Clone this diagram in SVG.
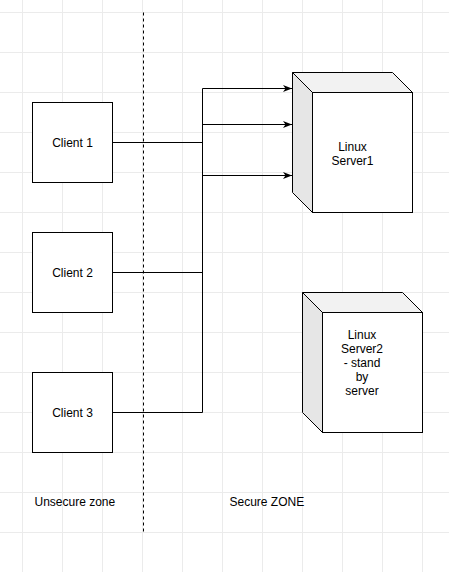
<svg xmlns="http://www.w3.org/2000/svg" width="449" height="572" viewBox="0 0 449 572">
<style>
.grid{stroke:#ebebeb;stroke-width:1;fill:none}
.box{fill:#ffffff;stroke:#000000;stroke-width:1}
.side{fill:#e6e6e6;stroke:#000000;stroke-width:1}
.top{fill:#f2f2f2;stroke:#000000;stroke-width:1}
.edge{fill:none;stroke:#000000;stroke-width:1}
text{font-family:"Liberation Sans",Arial,Helvetica,sans-serif;font-size:12px;fill:#000000}
</style>
<defs>
<marker id="arr" markerWidth="10" markerHeight="8" refX="9" refY="4" orient="auto" markerUnits="userSpaceOnUse">
<path d="M0,0.5 L9,4 L0,7.5 L2.5,4 Z" fill="#000"/>
</marker>
</defs>
<rect width="449" height="572" fill="#ffffff"/>
<g id="grid">
<path class="grid" d="M22.5,0V572M62.5,0V572M102.5,0V572M142.5,0V572M182.5,0V572M222.5,0V572M262.5,0V572M302.5,0V572M342.5,0V572M382.5,0V572M422.5,0V572M0,12.5H449M0,52.5H449M0,92.5H449M0,132.5H449M0,172.5H449M0,212.5H449M0,252.5H449M0,292.5H449M0,332.5H449M0,372.5H449M0,412.5H449M0,452.5H449M0,492.5H449M0,532.5H449"/>
</g>
<g id="zone-divider">
<line x1="143.5" y1="12.5" x2="143.5" y2="532.5" stroke="#000" stroke-width="1" stroke-dasharray="3,3"/>
</g>
<g id="connectors">
<path class="edge" d="M112.5,142.5H202.5"/>
<path class="edge" d="M112.5,272.5H202.5"/>
<path class="edge" d="M112.5,412.5H202.5V88.5"/>
<path class="edge" d="M202.5,88.5H292" marker-end="url(#arr)"/>
<path class="edge" d="M202.5,124.5H292" marker-end="url(#arr)"/>
<path class="edge" d="M202.5,175.5H292" marker-end="url(#arr)"/>
</g>
<g id="client1">
<rect class="box" x="32.5" y="102.5" width="80" height="80"/>
<text x="72.5" y="146.5" text-anchor="middle">Client 1</text>
</g>
<g id="client2">
<rect class="box" x="32.5" y="232.5" width="80" height="80"/>
<text x="72.5" y="276.5" text-anchor="middle">Client 2</text>
</g>
<g id="client3">
<rect class="box" x="32.5" y="372.5" width="80" height="80"/>
<text x="72.5" y="416.5" text-anchor="middle">Client 3</text>
</g>
<g id="server1">
<path class="side" d="M292.5,72.5L312.5,92.5V212.5L292.5,192.5Z"/>
<path class="top" d="M292.5,72.5H392.5L412.5,92.5H312.5Z"/>
<rect class="box" x="312.5" y="92.5" width="100" height="120"/>
<text x="352.5" y="150.5" text-anchor="middle">Linux</text>
<text x="352.5" y="164.5" text-anchor="middle">Server1</text>
</g>
<g id="server2">
<path class="side" d="M302.5,292.5L322.5,312.5V432.5L302.5,412.5Z"/>
<path class="top" d="M302.5,292.5H402.5L422.5,312.5H322.5Z"/>
<rect class="box" x="322.5" y="312.5" width="100" height="120"/>
<text x="362" y="339" text-anchor="middle">Linux</text>
<text x="362" y="353" text-anchor="middle">Server2</text>
<text x="362" y="367" text-anchor="middle">- stand</text>
<text x="362" y="381" text-anchor="middle">by</text>
<text x="362" y="395" text-anchor="middle">server</text>
</g>
<g id="labels">
<text x="34.5" y="506">Unsecure zone</text>
<text x="229.5" y="506">Secure ZONE</text>
</g>
</svg>
